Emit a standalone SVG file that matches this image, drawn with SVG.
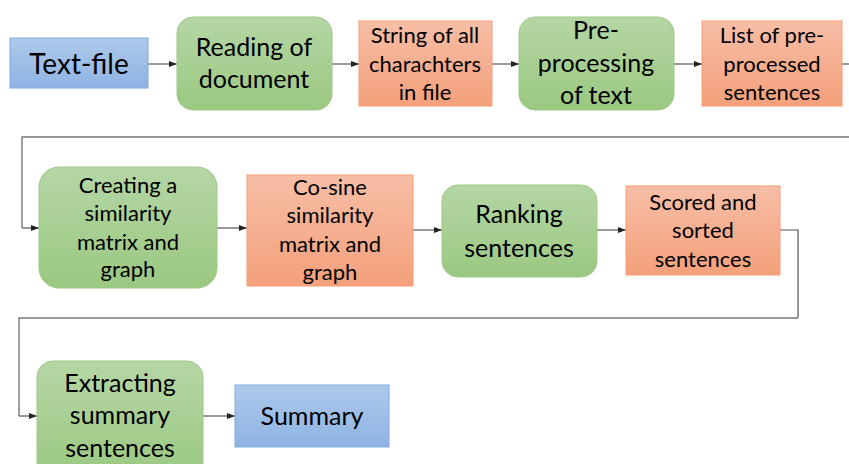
<svg xmlns="http://www.w3.org/2000/svg" width="849" height="464" viewBox="0 0 849 464">
<defs>
<linearGradient id="gGreen" x1="0" y1="0" x2="0" y2="1"><stop offset="0" stop-color="#b5d6a5"/><stop offset="1" stop-color="#9bc881"/></linearGradient>
<linearGradient id="gOrange" x1="0" y1="0" x2="0" y2="1"><stop offset="0" stop-color="#f7bea6"/><stop offset="1" stop-color="#f4a07b"/></linearGradient>
<linearGradient id="gBlue" x1="0" y1="0" x2="0" y2="1"><stop offset="0" stop-color="#aec9eb"/><stop offset="1" stop-color="#8eb3e3"/></linearGradient>
<marker id="arr" viewBox="0 0 8 6" refX="8" refY="3" markerWidth="8" markerHeight="6" markerUnits="userSpaceOnUse" orient="auto"><path d="M0,0 L8,3 L0,6 z" fill="#222"/></marker>
</defs>
<style>
.green{fill:url(#gGreen);stroke:#9dc887;stroke-width:1}
.orange{fill:url(#gOrange);stroke:#f59d72;stroke-width:1}
.blue{fill:url(#gBlue);stroke:#82a9de;stroke-width:1}
text{font-family:Lato,"Open Sans","Liberation Sans",sans-serif;fill:#000;text-anchor:middle}
.s{font-size:22px}
.b{font-size:25px}
.c{fill:none;stroke:#555;stroke-width:1.2}
.l{fill:none;stroke:#777;stroke-width:1.4}
</style>
<g id="connectors">
<line class="c" x1="148" y1="64" x2="177" y2="64" marker-end="url(#arr)"/>
<line class="c" x1="332" y1="64" x2="359" y2="64" marker-end="url(#arr)"/>
<line class="c" x1="492" y1="64" x2="519" y2="64" marker-end="url(#arr)"/>
<line class="c" x1="674" y1="64" x2="702" y2="64" marker-end="url(#arr)"/>
<line class="c" x1="842" y1="64" x2="849" y2="64"/>
<polyline class="l" points="849,137 22,137 22,228"/>
<line class="c" x1="22" y1="228" x2="39" y2="228" marker-end="url(#arr)"/>
<line class="c" x1="217" y1="228" x2="247" y2="228" marker-end="url(#arr)"/>
<line class="c" x1="413" y1="230" x2="442" y2="230" marker-end="url(#arr)"/>
<line class="c" x1="597" y1="230" x2="626" y2="230" marker-end="url(#arr)"/>
<polyline class="c" points="780,230 798,230 798,318"/>
<polyline class="l" points="798,318 19,318 19,416"/>
<line class="c" x1="19" y1="416" x2="37" y2="416" marker-end="url(#arr)"/>
<line class="c" x1="203" y1="416" x2="235" y2="416" marker-end="url(#arr)"/>
</g>
<g id="textfile"><rect class="blue" x="10" y="38" width="138" height="50"/><text x="79" y="74" font-size="28">Text-file</text></g>
<g id="reading"><rect class="green" x="177" y="17" width="155" height="93" rx="16"/><text class="b" x="254" y="56">Reading of</text><text class="b" x="254" y="88">document</text></g>
<g id="string"><rect class="orange" x="359" y="21" width="133" height="85"/><text class="s" x="425" y="43">String of all</text><text class="s" x="425" y="72">charachters</text><text class="s" x="425" y="100">in file</text></g>
<g id="preprocessing"><rect class="green" x="519" y="17" width="155" height="93" rx="16"/><text class="b" x="596" y="39">Pre-</text><text class="b" x="596" y="72">processing</text><text class="b" x="596" y="104">of text</text></g>
<g id="list"><rect class="orange" x="702" y="21" width="140" height="85"/><text class="s" x="772" y="43">List of pre-</text><text class="s" x="772" y="72">processed</text><text class="s" x="772" y="100">sentences</text></g>
<g id="creating"><rect class="green" x="39" y="167" width="178" height="121" rx="20"/><text class="s" x="128" y="193">Creating a</text><text class="s" x="128" y="221">similarity</text><text class="s" x="128" y="250">matrix and</text><text class="s" x="128" y="277">graph</text></g>
<g id="cosine"><rect class="orange" x="247" y="175" width="166" height="111"/><text class="s" x="330" y="195">Co-sine</text><text class="s" x="330" y="223">similarity</text><text class="s" x="330" y="252">matrix and</text><text class="s" x="330" y="280">graph</text></g>
<g id="ranking"><rect class="green" x="442" y="185" width="155" height="92" rx="16"/><text class="b" x="519" y="223">Ranking</text><text class="b" x="519" y="257">sentences</text></g>
<g id="scored"><rect class="orange" x="626" y="186" width="154" height="89"/><text class="s" x="703" y="210">Scored and</text><text class="s" x="703" y="238">sorted</text><text class="s" x="703" y="267">sentences</text></g>
<g id="extracting"><rect class="green" x="37" y="361" width="166" height="120" rx="16"/><text class="b" x="120" y="392">Extracting</text><text class="b" x="120" y="424">summary</text><text class="b" x="120" y="457">sentences</text></g>
<g id="summary"><rect class="blue" x="235" y="385" width="154" height="62"/><text class="b" x="312" y="425">Summary</text></g>
</svg>
